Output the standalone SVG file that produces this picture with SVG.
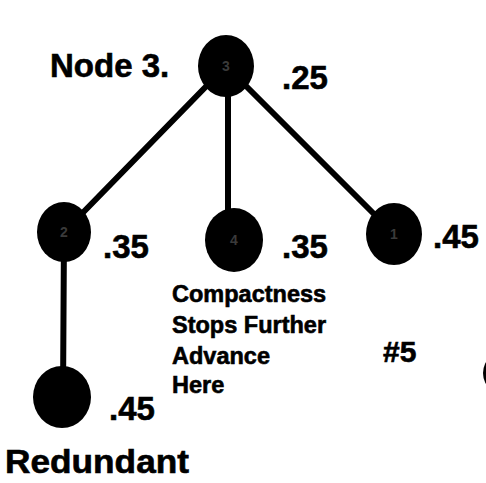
<svg xmlns="http://www.w3.org/2000/svg" width="486" height="483" viewBox="0 0 486 483">
  <style>
    .edge { stroke: #000; stroke-width: 6; stroke-linecap: round; fill: none; }
    .node { fill: #000; }
    .tag { fill: #3a3a3a; font-family: "Liberation Sans", Arial, sans-serif; font-weight: bold; font-size: 14px; text-anchor: middle; }
    .lbl { fill: #000; stroke: #000; stroke-width: 0.6; font-family: "Liberation Sans", Arial, Helvetica, sans-serif; font-weight: bold; }
    .big { font-size: 33px; }
    .note { font-size: 23.5px; }
  </style>
  <rect width="486" height="483" fill="#fff"/>

  <!-- tree edges -->
  <g id="connectors">
    <line class="edge" x1="226" y1="66" x2="64" y2="232"/>
    <line class="edge" x1="228" y1="66" x2="228" y2="240"/>
    <line class="edge" x1="226" y1="66" x2="394" y2="234"/>
    <line class="edge" x1="64" y1="232" x2="63" y2="397"/>
  </g>

  <!-- nodes -->
  <g id="node-3">
    <ellipse class="node" cx="226" cy="66" rx="28" ry="31"/>
    <text class="tag" x="226" y="71">3</text>
  </g>
  <g id="node-2">
    <ellipse class="node" cx="64" cy="232" rx="27" ry="30"/>
    <text class="tag" x="64" y="237">2</text>
  </g>
  <g id="node-4">
    <ellipse class="node" cx="234" cy="240" rx="29" ry="32"/>
    <text class="tag" x="234" y="245">4</text>
  </g>
  <g id="node-1">
    <ellipse class="node" cx="394" cy="234" rx="28" ry="31"/>
    <text class="tag" x="394" y="239">1</text>
  </g>
  <g id="node-redundant">
    <ellipse class="node" cx="62" cy="397" rx="29" ry="31"/>
  </g>
  <g id="node-5">
    <ellipse class="node" cx="510" cy="373" rx="27" ry="24"/>
  </g>

  <!-- labels -->
  <g id="labels">
    <text class="lbl big" x="50" y="77">Node 3.</text>
    <text class="lbl big" x="282" y="89">.25</text>
    <text class="lbl big" x="103" y="258">.35</text>
    <text class="lbl big" x="282" y="258">.35</text>
    <text class="lbl big" x="433" y="248">.45</text>
    <text class="lbl big" x="109" y="420">.45</text>
    <text class="lbl" x="383" y="362" font-size="30">#5</text>
    <text class="lbl" x="5" y="473" font-size="33" textLength="184" lengthAdjust="spacingAndGlyphs">Redundant</text>
    <text class="lbl note" x="172" y="302">Compactness</text>
    <text class="lbl note" x="172" y="333">Stops Further</text>
    <text class="lbl note" x="172" y="364">Advance</text>
    <text class="lbl note" x="172" y="393">Here</text>
  </g>
</svg>
